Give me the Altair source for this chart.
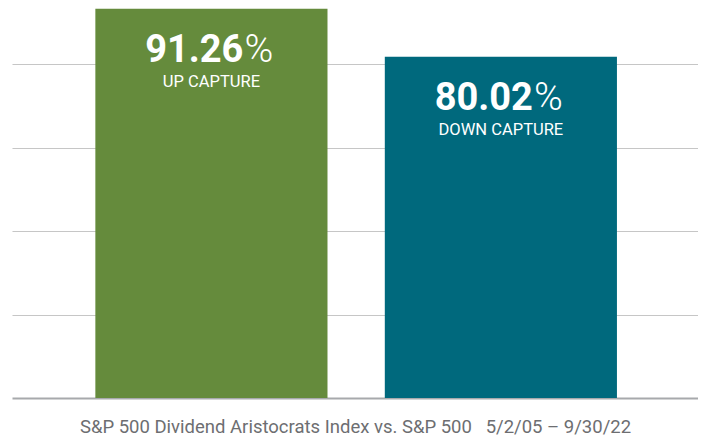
import altair as alt
import pandas as pd

# ---- data ----
CATEGORIES = ["Up Capture", "Down Capture"]
VALUES = [91.26, 80.02]
LABELS = ["UP CAPTURE", "DOWN CAPTURE"]
COLORS = ["#658b3c", "#00697d"]
GRID_VALUES = [19.57, 39.14, 58.71, 78.28]
Y_DOMAIN_MAX = 90.95
NBSP = "\u00a0"
SUBTITLE = "S&P 500 Dividend Aristocrats Index vs. S&P 500" + NBSP * 3 + "5/2/05 \u2013 9/30/22"

df = pd.DataFrame({
    "cat": CATEGORIES,
    "value": VALUES,
    "label": LABELS,
    "num": [f"{v:.2f}" for v in VALUES],
})

FONT = "Roboto"

x_enc = alt.X(
    "cat:N",
    sort=CATEGORIES,
    scale=alt.Scale(paddingInner=0.198, paddingOuter=0.284, align=0.507),
    axis=alt.Axis(
        labels=False, ticks=False, domain=True, domainColor="#a7a9ac", domainWidth=2,
        title=SUBTITLE, titleFont=FONT, titleFontSize=18.5, titleFontWeight="normal",
        titleColor="#6d6e71", titleBaseline="alphabetic", titlePadding=34,
    ),
)
y_enc = alt.Y(
    "value:Q",
    scale=alt.Scale(domain=[0, Y_DOMAIN_MAX], nice=False, zero=True),
    axis=alt.Axis(
        values=GRID_VALUES, grid=True, gridColor="#c6c6c6", gridWidth=1.2,
        labels=False, ticks=False, domain=False, title=None,
    ),
)

base = alt.Chart(df)

bars = base.mark_bar().encode(
    x=x_enc,
    y=y_enc,
    color=alt.Color("cat:N", scale=alt.Scale(domain=CATEGORIES, range=COLORS), legend=None),
)

nums = base.mark_text(
    font=FONT, fontSize=38, fontWeight="bold", color="white",
    align="right", baseline="alphabetic", dx=32, dy=53,
).encode(x=alt.X("cat:N", sort=CATEGORIES), y="value:Q", text="num:N")

pct = base.mark_text(
    font=FONT, fontSize=39, fontWeight=300, color="white",
    align="left", baseline="alphabetic", dx=33, dy=53,
).encode(x=alt.X("cat:N", sort=CATEGORIES), y="value:Q", text=alt.value("%"))

labs = base.mark_text(
    font=FONT, fontSize=16.5, fontWeight="normal", color="white",
    align="center", baseline="alphabetic", dy=78,
).encode(x=alt.X("cat:N", sort=CATEGORIES), y="value:Q", text="label:N")

chart = (
    alt.layer(bars, nums, pct, labs)
    .properties(width=686, height=388, padding={"left": 4, "top": 0, "right": 0, "bottom": 0})
    .configure_view(stroke=None)
)

chart.save("out.html", embed_options={"renderer": "svg", "actions": False})
